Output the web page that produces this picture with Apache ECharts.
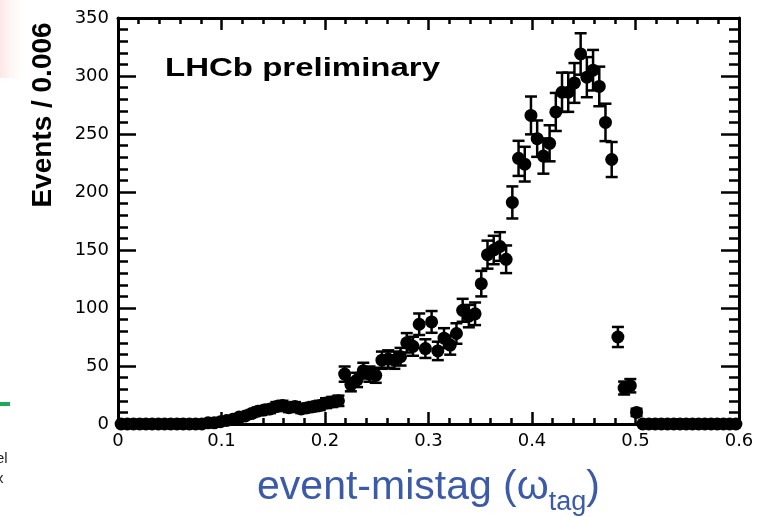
<!DOCTYPE html>
<html>
<head>
<meta charset="utf-8">
<script src="https://cdn.jsdelivr.net/npm/echarts@6/dist/echarts.min.js"></script>
<style>
html,body{margin:0;padding:0;background:#fff;}
#chart{width:769px;height:517px;}
</style>
</head>
<body>
<div id="chart"></div>
<script>
// Histogram: event-mistag, bin width 0.006, 100 bins from 0 to 0.6
const binWidth = 0.006;
const counts = [
  0,0,0,0,0,0,0,0,0,0,
  0,0,0,0,1,1,2,3,4,6,
  7,9,11,12,13,15,16,14,15,13,
  14,15,16,18,19,20,43,34,38,46,
  43,42,55,56,55,58,70,67,86,65,
  88,63,74,68,78,98,93,95,121,146,
  150,153,142,191,229,224,266,246,231,242,
  269,286,286,294,319,299,305,291,260,228,
  75,31,33,10,0,0,0,0,0,0,
  0,0,0,0,0,0,0,0,0,0
];
const xTicks = [0, 0.1, 0.2, 0.3, 0.4, 0.5, 0.6];
const yTicks = [0, 50, 100, 150, 200, 250, 300, 350];

const points = counts.map((c, i) => [ (i + 0.5) * binWidth, c ]);

const chart = echarts.init(document.getElementById('chart'));

const tickFont = 'DejaVu Sans';
const baseX = {
  type: 'value', min: xTicks[0], max: xTicks[xTicks.length - 1], interval: 0.1,
  axisLine: { show: true, onZero: false, lineStyle: { color: '#000', width: 3 } },
  splitLine: { show: false },
  axisTick: { show: true, inside: true, length: 12, lineStyle: { color: '#000', width: 2.5 } },
  minorTick: { show: true, splitNumber: 5, length: 6, lineStyle: { color: '#000', width: 2.5 } }
};
const baseY = {
  type: 'value', min: yTicks[0], max: yTicks[yTicks.length - 1], interval: 50,
  axisLine: { show: true, onZero: false, lineStyle: { color: '#000', width: 3 } },
  splitLine: { show: false },
  axisTick: { show: true, inside: true, length: 18, lineStyle: { color: '#000', width: 2.5 } },
  minorTick: { show: true, splitNumber: 5, length: 10, lineStyle: { color: '#000', width: 2.5 } }
};

const option = {
  animation: false,
  backgroundColor: '#fff',
  grid: { left: 118, right: 30, top: 18, bottom: 93, containLabel: false, outerBoundsMode: 'none' },
  xAxis: [
    Object.assign({}, baseX, {
      position: 'bottom',
      axisLabel: {
        show: true, color: '#000', fontFamily: tickFont, fontSize: 18, margin: 8,
        formatter: v => (Math.abs(v) < 1e-9 ? '0' : (+v.toFixed(1)).toString())
      },
      name: '{a|event-mistag (ω}{s|tag}{a|)}',
      nameLocation: 'middle',
      nameGap: 43,
      nameTextStyle: {
        rich: {
          a: { fontFamily: 'Liberation Sans', fontSize: 41, color: '#3b5ba9', lineHeight: 41, verticalAlign: 'top' },
          s: { fontFamily: 'Liberation Sans', fontSize: 27, color: '#3b5ba9', lineHeight: 49, verticalAlign: 'bottom' }
        }
      }
    }),
    Object.assign({}, baseX, { position: 'top', axisLabel: { show: false } })
  ],
  yAxis: [
    Object.assign({}, baseY, {
      position: 'left',
      axisLabel: { show: true, color: '#000', fontFamily: tickFont, fontSize: 18, margin: 9 },
      name: 'Events / 0.006',
      nameLocation: 'middle',
      nameGap: 61,
      nameTextStyle: {
        fontFamily: 'Liberation Sans', fontWeight: 'bold', fontSize: 28, color: '#000',
        padding: [0, 0, 0, 212]
      }
    }),
    Object.assign({}, baseY, { position: 'right', axisLabel: { show: false } })
  ],
  graphic: [
    { type: 'rect', shape: { x: 0, y: 0, width: 26, height: 78 },
      style: { fill: new echarts.graphic.LinearGradient(0, 0, 1, 0, [
        { offset: 0, color: 'rgba(252,220,220,0.7)' }, { offset: 1, color: 'rgba(255,245,245,0)' }]) } },
    { type: 'rect', shape: { x: 0, y: 402, width: 10, height: 4 }, style: { fill: '#1fa85a' } },
    { type: 'text', x: -4, y: 451, style: { text: 'el', font: '15px Liberation Sans', fill: '#222' } },
    { type: 'text', x: -4, y: 471, style: { text: 'x', font: '15px Liberation Sans', fill: '#222' } },
    { type: 'text', x: 165, y: 57, scaleX: 1.32,
      style: { text: 'LHCb preliminary', font: 'bold 25px Liberation Sans', fill: '#000', textVerticalAlign: 'top' } }
  ],
  series: [
    {
      type: 'custom',
      xAxisIndex: 0, yAxisIndex: 0,
      data: points,
      clip: false,
      renderItem: function (params, api) {
        const x = api.value(0), y = api.value(1);
        const e = Math.sqrt(y);
        if (!(e > 0)) return null;
        const top = api.coord([x, y + e]);
        const bot = api.coord([x, y - e]);
        const hw = 6;
        const st = { stroke: '#000', lineWidth: 2.5 };
        return {
          type: 'group',
          children: [
            { type: 'line', shape: { x1: top[0], y1: top[1], x2: bot[0], y2: bot[1] }, style: st },
            { type: 'line', shape: { x1: top[0] - hw, y1: top[1], x2: top[0] + hw, y2: top[1] }, style: st },
            { type: 'line', shape: { x1: bot[0] - hw, y1: bot[1], x2: bot[0] + hw, y2: bot[1] }, style: st }
          ]
        };
      },
      z: 3
    },
    {
      type: 'scatter',
      xAxisIndex: 0, yAxisIndex: 0,
      data: points,
      symbol: 'circle',
      symbolSize: 13,
      clip: false,
      itemStyle: { color: '#000', opacity: 1 },
      z: 4
    }
  ]
};
chart.setOption(option);
</script>
</body>
</html>
